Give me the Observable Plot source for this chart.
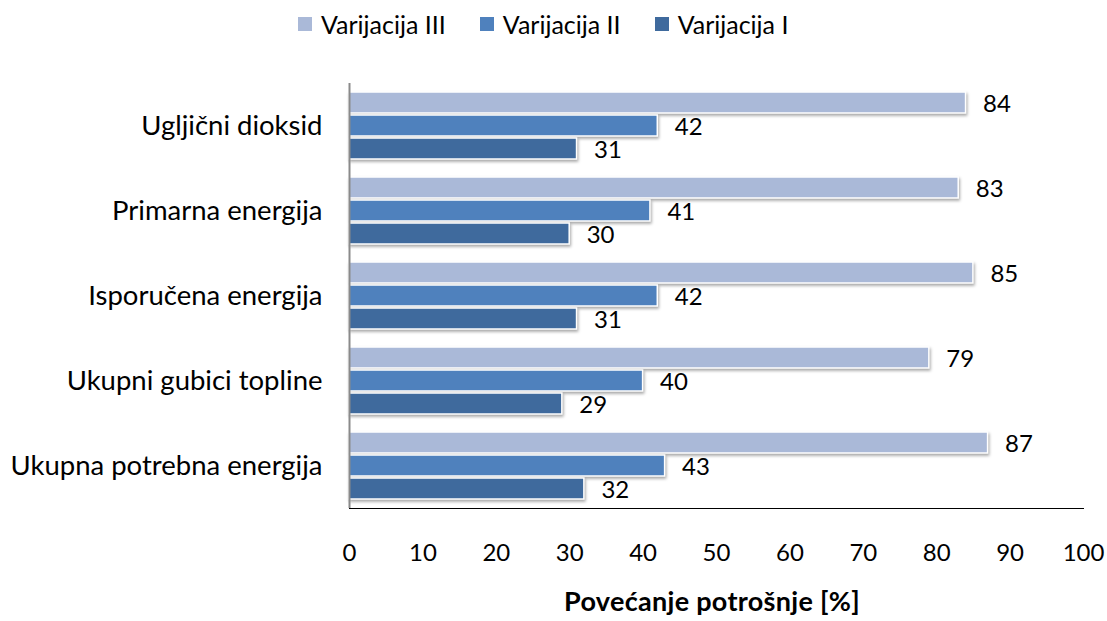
<!DOCTYPE html>
<html><head><meta charset="utf-8">
<script src="https://cdn.jsdelivr.net/npm/d3@7"></script>
<script src="https://cdn.jsdelivr.net/npm/@observablehq/plot@0.6"></script>
<style>
body{margin:0;background:#fff;font-family:Lato,"Open Sans",sans-serif;}
#legend{height:50px;display:flex;justify-content:flex-start;align-items:center;font-size:25px;color:#000;padding-left:298px;box-sizing:border-box;padding-bottom:2px;}
#legend .item{display:flex;align-items:center;margin-right:34px;}
#legend .sw{width:14px;height:14px;margin-right:9px;}
#chart svg rect{filter:drop-shadow(1px 2px 1.5px rgba(0,0,0,0.35));}
#chart svg [aria-label="fy-axis tick label"] text{font-size:27.5px;}
#xlabel{height:40px;width:734px;margin-left:345px;text-align:center;font-weight:bold;font-size:27px;letter-spacing:0.3px;line-height:40px;color:#000;}
</style></head><body>
<div id="legend"></div>
<div id="chart"></div>
<div id="xlabel"></div>
<script>
const categories = ["Ugljični dioksid","Primarna energija","Isporučena energija","Ukupni gubici topline","Ukupna potrebna energija"];
const series = ["Varijacija III","Varijacija II","Varijacija I"];
const valuesIII = [84,83,85,79,87];
const valuesII = [42,41,42,40,43];
const valuesI = [31,30,31,29,32];
const colors = ["#AAB9D8","#4F81BD","#3F6A9D"];
const xTicks = [0,10,20,30,40,50,60,70,80,90,100];
const xLabel = "Povećanje potrošnje [%]";

const seriesValues = [valuesIII, valuesII, valuesI];
const data = [];
categories.forEach((c, i) => series.forEach((s, j) => data.push({category: c, series: s, value: seriesValues[j][i]})));

const legend = document.getElementById("legend");
series.forEach((s, j) => {
  const it = document.createElement("div"); it.className = "item";
  const sw = document.createElement("div"); sw.className = "sw"; sw.style.background = colors[j];
  const t = document.createElement("span"); t.textContent = s;
  it.appendChild(sw); it.appendChild(t); legend.appendChild(it);
});
document.getElementById("xlabel").textContent = xLabel;

const chart = Plot.plot({
  width: 1107, height: 531,
  marginTop: 31, marginBottom: 71, marginLeft: 349, marginRight: 24,
  style: {fontSize: "24px", fontFamily: "Lato, 'Open Sans', sans-serif", color: "#000", background: "#fff"},
  x: {domain: [0, 100], ticks: xTicks, tickSize: 0, tickPadding: 35, line: true, label: null, tickFormat: d => d},
  fy: {domain: categories, padding: 0, tickSize: 0, tickPadding: 27, label: null},
  y: {domain: series, paddingInner: 0.09, paddingOuter: 0.37, axis: null},
  color: {domain: series, range: colors},
  marks: [
    Plot.barX(data, {x: "value", y: "series", fy: "category", fill: "series", stroke: "white", strokeWidth: 1.5}),
    Plot.text(data, {x: "value", y: "series", fy: "category", text: d => String(d.value), textAnchor: "start", dx: 17, dy: 1, fill: "#000"}),
    Plot.ruleX([0], {stroke: "#8a8a8a", strokeWidth: 2})
  ]
});
document.getElementById("chart").appendChild(chart);
</script>
</body></html>
